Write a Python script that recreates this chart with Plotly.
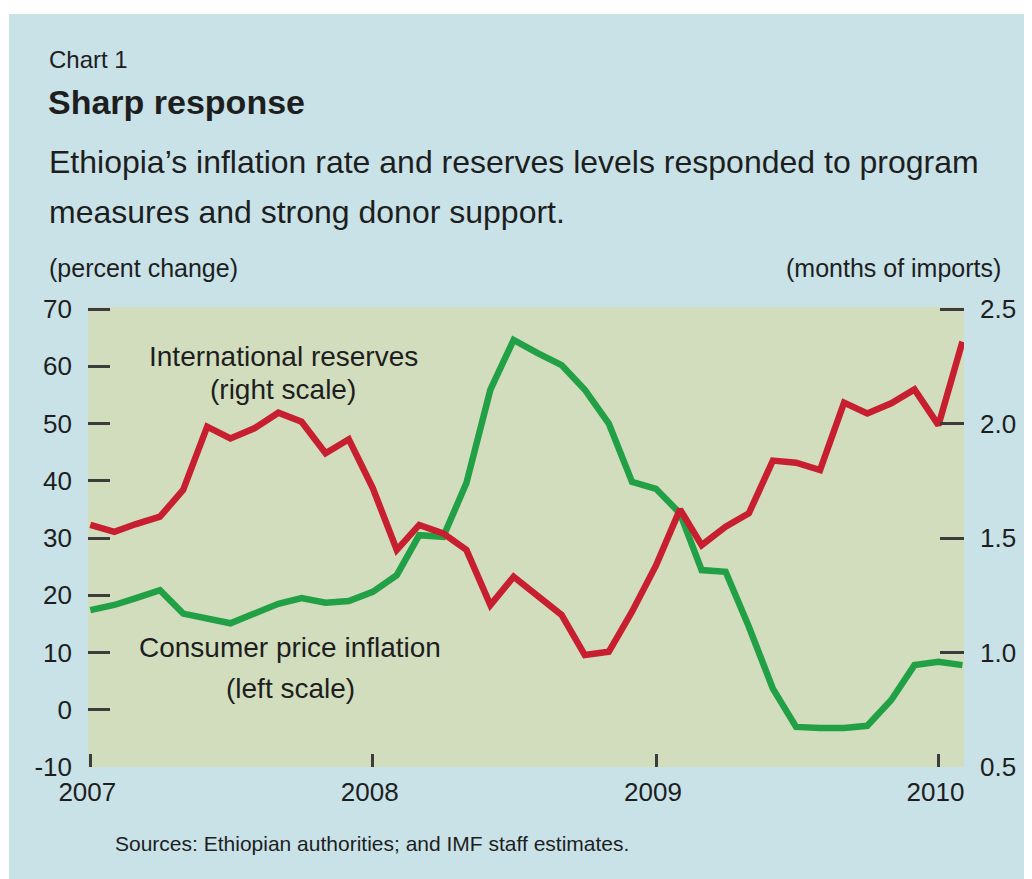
import plotly.graph_objects as go

months = [
    "2007-01", "2007-02", "2007-03", "2007-04", "2007-05", "2007-06", "2007-07", "2007-08",
    "2007-09", "2007-10", "2007-11", "2007-12", "2008-01", "2008-02", "2008-03", "2008-04",
    "2008-05", "2008-06", "2008-07", "2008-08", "2008-09", "2008-10", "2008-11", "2008-12",
    "2009-01", "2009-02", "2009-03", "2009-04", "2009-05", "2009-06", "2009-07", "2009-08",
    "2009-09", "2009-10", "2009-11", "2009-12", "2010-01", "2010-02",
]
reserves = [
    1.557, 1.527, 1.561, 1.593, 1.71, 1.986, 1.935, 1.979, 2.047, 2.008, 1.870, 1.931,
    1.718, 1.448, 1.557, 1.520, 1.448, 1.207, 1.331, 1.244, 1.164, 0.989, 1.003, 1.178,
    1.38, 1.625, 1.469, 1.549, 1.608, 1.838, 1.829, 1.797, 2.091, 2.044, 2.088, 2.149,
    1.993, 2.357,
]
cpi = [
    17.4, 18.3, 19.5, 20.9, 16.8, 16.0, 15.1, 16.8, 18.5, 19.5, 18.7, 19.0,
    20.6, 23.5, 30.5, 30.2, 39.6, 55.9, 64.6, 62.3, 60.2, 55.9, 50.0, 39.8,
    38.6, 34.3, 24.4, 24.1, 14.5, 3.7, -3.0, -3.2, -3.2, -2.8, 1.7, 7.8,
    8.4, 7.8,
]
x_ticks = ["2007-01-01", "2008-01-01", "2009-01-01", "2010-01-01"]
x_ticklabels = ["2007", "2008", "2009", "2010"]
left_ticks = [-10, 0, 10, 20, 30, 40, 50, 60, 70]
left_ticklabels = ["-10", "0", "10", "20", "30", "40", "50", "60", "70"]
right_ticks = [0.5, 1.0, 1.5, 2.0, 2.5]
right_ticklabels = ["0.5", "1.0", "1.5", "2.0", "2.5"]

# figure size; the page body adds an 8px offset, so layout is planned in screen px
W, H = 1032, 879
OFF = 8
SL, SR, ST, SB = 88, 964, 307, 767          # plot area in screen px
PW, PH = SR - SL, SB - ST
EXTRA_TOP = 2                                # keep the top ticks from being clipped
Y_TOP = 70 + EXTRA_TOP * 80 / (PH - EXTRA_TOP)
Y2_TOP = 2.5 + EXTRA_TOP * 2 / (PH - EXTRA_TOP)

BLUE = "#c8e2e8"
PLOTBG = "#d1ddbd"
RED = "#c71f30"
GREEN = "#22a046"
TXT = "#1e1e1e"
TICK = "#3c3c3c"
SANS = "Liberation Sans, Arial, sans-serif"


def px(xs):
    return (xs - SL) / PW


def py(ys):
    return (SB - ys) / PH


fig = go.Figure()
fig.add_trace(go.Scatter(x=months, y=reserves, yaxis="y2", mode="lines",
                         line=dict(color=RED, width=6.5), showlegend=False,
                         hoverinfo="skip"))
fig.add_trace(go.Scatter(x=months, y=cpi, yaxis="y", mode="lines",
                         line=dict(color=GREEN, width=6.5), showlegend=False,
                         hoverinfo="skip"))

annotations = []


def note(text, xs, ys, size, xanchor="left", bold=False):
    t = f"<b>{text}</b>" if bold else text
    annotations.append(dict(text=t, x=px(xs), y=py(ys), xref="paper", yref="paper",
                            xanchor=xanchor, yanchor="middle", showarrow=False,
                            font=dict(size=size, family=SANS, color=TXT)))


note("Chart 1", 47, 59, 24)
note("Sharp response", 46, 102, 34, bold=True)
note("Ethiopia’s inflation rate and reserves levels responded to program", 47, 162, 32)
note("measures and strong donor support.", 47, 212, 32)
note("(percent change)", 47, 268, 25)
note("(months of imports)", 1003, 268, 25, xanchor="right")
note("International reserves", 283, 356, 28, xanchor="center")
note("(right scale)", 283, 389, 28, xanchor="center")
note("Consumer price inflation", 290, 647, 28, xanchor="center")
note("(left scale)", 290, 688, 28, xanchor="center")
note("Sources: Ethiopian authorities; and IMF staff estimates.", 113, 843, 21)

shapes = [
    dict(type="rect", xref="paper", yref="paper", x0=px(0), x1=px(W + OFF),
         y0=py(OFF), y1=py(14), fillcolor="white", line=dict(width=0), layer="below"),
    dict(type="rect", xref="paper", yref="paper", x0=px(0), x1=px(9),
         y0=py(0), y1=py(H + OFF), fillcolor="white", line=dict(width=0), layer="below"),
]

fig.update_layout(
    width=W, height=H, autosize=False,
    margin=dict(l=SL - OFF, r=W - (SR - OFF), t=ST - OFF, b=H - (SB - OFF), pad=0),
    paper_bgcolor=BLUE, plot_bgcolor=PLOTBG,
    font=dict(family=SANS, color=TXT),
    annotations=annotations, shapes=shapes,
    xaxis=dict(type="date", range=["2006-12-29", "2010-02-03"],
               tickvals=x_ticks, ticktext=x_ticklabels,
               ticks="inside", ticklen=13, tickwidth=2.5, tickcolor=TICK,
               tickfont=dict(size=26, color=TXT), ticklabelstandoff=7,
               ticklabelshift=-3,
               showgrid=False, zeroline=False, showline=False, fixedrange=True),
    yaxis=dict(range=[-10, Y_TOP], tickvals=left_ticks, ticktext=left_ticklabels,
               ticks="inside", ticklen=22, tickwidth=2.5, tickcolor=TICK,
               tickfont=dict(size=26, color=TXT), ticklabelstandoff=15,
               showgrid=False, zeroline=False, showline=False, fixedrange=True),
    yaxis2=dict(range=[0.5, Y2_TOP], tickvals=right_ticks, ticktext=right_ticklabels,
                overlaying="y", side="right",
                ticks="inside", ticklen=24, tickwidth=2.5, tickcolor=TICK,
                tickfont=dict(size=26, color=TXT), ticklabelstandoff=15,
                showgrid=False, zeroline=False, showline=False, fixedrange=True),
)

fig.write_html("out.html")
